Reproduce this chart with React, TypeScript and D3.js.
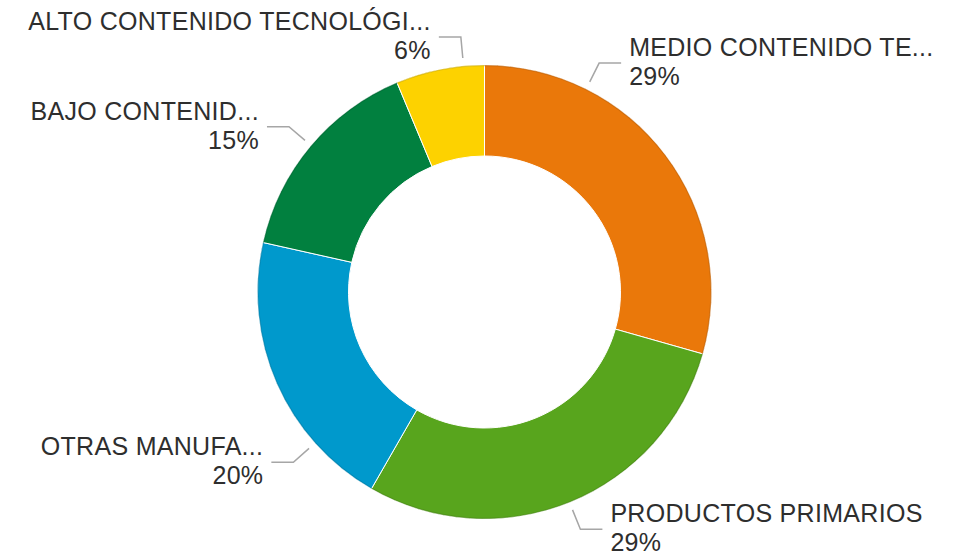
import React from "react";
import * as d3 from "d3";

// Data
const categories = [
  "MEDIO CONTENIDO TE...",
  "PRODUCTOS PRIMARIOS",
  "OTRAS MANUFA...",
  "BAJO CONTENID...",
  "ALTO CONTENIDO TECNOLÓGI...",
];
const shares = [29.4, 28.9, 20.2, 15.2, 6.3];
const percentLabels = ["29%", "29%", "20%", "15%", "6%"];
const colors = ["#EA780A", "#58A51D", "#0099CC", "#01803F", "#FDD200"];
// Layout: angle (deg, clockwise from 12 o'clock) where each leader line leaves the ring
const leaderAngles = [26.6, 158, 228.3, 310.2, 354.7];

const W = 959;
const H = 555;
const cx = 484.5;
const cy = 292;
const R = 227;
const r = 136;

export default function App() {
  const pie = d3
    .pie<number>()
    .sort(null)
    .value((d) => d)
    .startAngle(0)
    .endAngle(2 * Math.PI);
  const arcs = pie(shares);
  const arcGen = d3.arc<d3.PieArcDatum<number>>().innerRadius(r).outerRadius(R);
  const rimGen = d3.arc<d3.PieArcDatum<number>>().innerRadius(R - 1.2).outerRadius(R);

  const polar = (deg: number, rad: number): [number, number] => {
    const a = (deg * Math.PI) / 180;
    return [cx + rad * Math.sin(a), cy - rad * Math.cos(a)];
  };

  return (
    <svg
      width={W}
      height={H}
      style={{ position: "absolute", left: 0, top: 0, background: "#fff" }}
      fontFamily="'Liberation Sans', Arial, sans-serif"
    >
      <g transform={`translate(${cx},${cy})`}>
        {arcs.map((a, i) => (
          <path key={"s" + i} d={arcGen(a) || ""} fill={colors[i]} stroke="#fff" strokeWidth={1} />
        ))}
        {arcs.map((a, i) => (
          <path
            key={"rim" + i}
            d={rimGen(a) || ""}
            fill={d3.color(colors[i])!.darker(0.6).toString()}
            opacity={0.6}
          />
        ))}
      </g>
      <g>
        {leaderAngles.map((ang, i) => {
          const [x0, y0] = polar(ang, R + 8);
          const [x1, y1] = polar(ang, R + 29);
          const right = x1 > cx;
          const x2 = right ? x1 + 22 : x1 - 22;
          const tx = right ? x2 + 8 : x2 - 8;
          const anchor = right ? "start" : "end";
          return (
            <g key={"l" + i}>
              <polyline
                points={`${x0},${y0} ${x1},${y1} ${x2},${y1}`}
                fill="none"
                stroke="#a6a6a6"
                strokeWidth={1.5}
              />
              <text x={tx} y={y1 - 7} fontSize={25} letterSpacing={0.3} fill="#2e2e2e" textAnchor={anchor}>
                {categories[i]}
              </text>
              <text x={tx} y={y1 + 22} fontSize={25} letterSpacing={0.3} fill="#2e2e2e" textAnchor={anchor}>
                {percentLabels[i]}
              </text>
            </g>
          );
        })}
      </g>
    </svg>
  );
}
